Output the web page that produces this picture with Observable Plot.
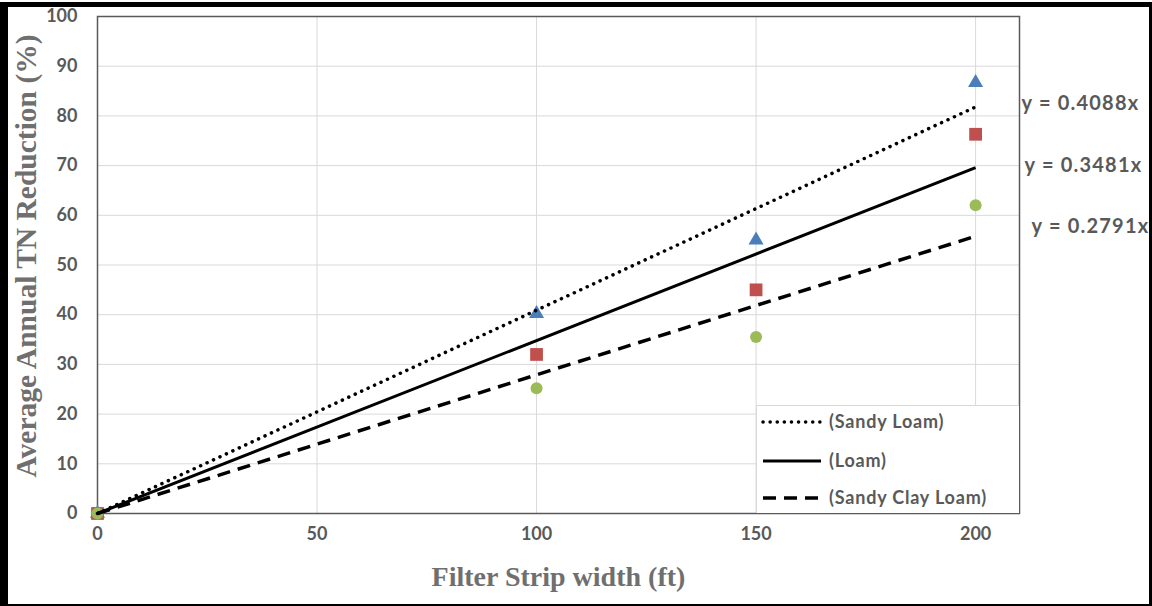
<!DOCTYPE html>
<html>
<head>
<meta charset="utf-8">
<script src="https://cdn.jsdelivr.net/npm/d3@7"></script>
<script src="https://cdn.jsdelivr.net/npm/@observablehq/plot@0.6"></script>
<style>
html,body{margin:0;padding:0;background:#fff;}
#wrap{position:relative;width:1152px;height:606px;overflow:hidden;background:#fff;}
#border{position:absolute;left:0;top:2px;right:0;bottom:0;border-style:solid;border-color:#000;border-width:5px 3px 2px 8px;pointer-events:none;}
#legend{position:absolute;left:756px;top:405px;width:263px;height:108px;background:#fff;border-left:1px solid #d9d9d9;border-top:1px solid #d9d9d9;box-sizing:border-box;}
#legend svg{position:absolute;left:0;top:0;}
</style>
</head>
<body>
<div id="wrap">
  <div id="chart"></div>
  <div id="legend"></div>
  <div id="border"></div>
</div>
<script>
// ---- data ----
const widths = [0, 100, 150, 200];
const sandyLoam = [0, 40.2, 55.0, 86.7];
const loam = [0, 32.0, 45.0, 76.3];
const sandyClayLoam = [0, 25.2, 35.5, 62.0];
const soils = ["(Sandy Loam)", "(Loam)", "(Sandy Clay Loam)"];
const equations = ["y = 0.4088x", "y = 0.3481x", "y = 0.2791x"];
const trendX = [0, 200];
const trendEnds = [81.8, 69.6, 55.8];
const xTicks = [0, 50, 100, 150, 200];
const yTicks = [0, 10, 20, 30, 40, 50, 60, 70, 80, 90, 100];

// ---- styles ----
const tickColor = "#595959";
const titleColor = "#6f6f6f";
const sansFont = "Lato, 'Open Sans', sans-serif";
const serifFont = "'Liberation Serif', 'DejaVu Serif', serif";
const dashes = ["0.1,7", null, "13,8"];
const caps = ["round", "butt", "butt"];
const eqDx = [46, 49, 56];
const eqDy = [-3, -2, -10];

const pts = (vals) => widths.map((w, i) => ({x: w, y: vals[i]}));
const trend = (k) => trendX.map((x, i) => ({x, y: i === 0 ? 0 : trendEnds[k]}));

const marks = [
  Plot.gridX(xTicks.slice(1), {stroke: "#d9d9d9", strokeOpacity: 1, strokeWidth: 1}),
  Plot.gridY(yTicks.slice(1), {stroke: "#d9d9d9", strokeOpacity: 1, strokeWidth: 1}),
  Plot.axisX(xTicks, {tickSize: 0, tickPadding: 14, fontSize: 18, fontWeight: "bold", fill: tickColor, fontFamily: sansFont, label: null}),
  Plot.axisY(yTicks, {tickSize: 0, tickPadding: 20, fontSize: 18, fontWeight: "bold", fill: tickColor, fontFamily: sansFont, label: null}),
  Plot.frame({stroke: "#595959", strokeWidth: 1.5}),
  Plot.dot(pts(sandyLoam), {x: "x", y: "y", symbol: "triangle", r: 5.6, fill: "#4a7ebb", stroke: null}),
  Plot.dot(pts(loam), {x: "x", y: "y", symbol: "square", r: 7.2, fill: "#c0504d", stroke: null}),
  Plot.dot(pts(sandyClayLoam), {x: "x", y: "y", symbol: "circle", r: 6, fill: "#9bbb59", stroke: null}),
];
[0, 1, 2].forEach(k => {
  marks.push(Plot.line(trend(k), {x: "x", y: "y", stroke: "#000", strokeWidth: k === 1 ? 3 : 3.5,
    strokeDasharray: dashes[k], strokeLinecap: caps[k]}));
});
[0, 1, 2].forEach(k => {
  marks.push(Plot.text([equations[k]], {x: () => trendX[1], y: () => trendEnds[k], text: d => d,
    textAnchor: "start", dx: eqDx[k], dy: eqDy[k], fontSize: 20, fontWeight: "bold",
    fill: tickColor, fontFamily: sansFont}));
});
marks.push(Plot.text(["Filter Strip width (ft)"], {frameAnchor: "bottom", text: d => d, dy: 72,
  textAnchor: "middle", fontSize: 28, fontWeight: "bold", fill: titleColor, fontFamily: serifFont}));
marks.push(Plot.text(["Average Annual TN Reduction (%)"], {frameAnchor: "left", text: d => d, rotate: -90,
  textAnchor: "middle", dx: -71, dy: -9, fontSize: 29.5, fontWeight: "bold", fill: titleColor, fontFamily: serifFont}));

const chart = Plot.plot({
  width: 1152, height: 606,
  marginLeft: 97, marginTop: 16, marginRight: 133, marginBottom: 93,
  x: {domain: [0, 210]},
  y: {domain: [0, 100]},
  style: {background: "#fff", overflow: "visible"},
  marks
});
document.getElementById("chart").appendChild(chart);
d3.select(chart).selectAll("text").filter(function() { return equations.includes(this.textContent); })
  .style("letter-spacing", "1.2px");

// ---- legend ----
const lg = d3.select("#legend").append("svg").attr("width", 263).attr("height", 108);
const rowsY = [16, 55, 92];
soils.forEach((s, k) => {
  const l = lg.append("line").attr("x1", 6).attr("x2", 64).attr("y1", rowsY[k]).attr("y2", rowsY[k])
    .attr("stroke", "#000").attr("stroke-width", k === 1 ? 3 : 3.5).attr("stroke-linecap", caps[k]);
  if (dashes[k]) l.attr("stroke-dasharray", dashes[k]);
  lg.append("text").attr("x", 72).attr("y", rowsY[k]).attr("dy", "0.35em").text(s)
    .style("letter-spacing", "0.8px")
    .attr("font-family", sansFont).attr("font-weight", "bold").attr("font-size", 18).attr("fill", tickColor);
});
</script>
</body>
</html>
